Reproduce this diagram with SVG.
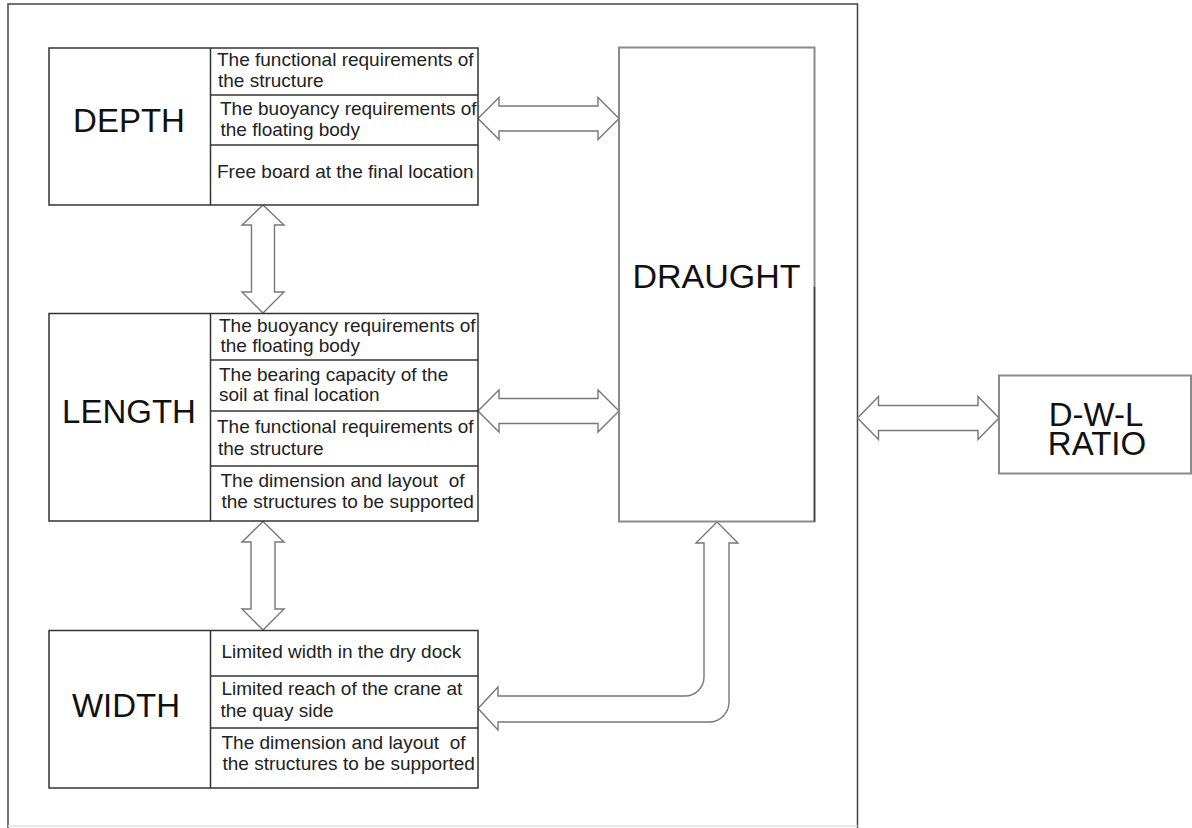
<svg xmlns="http://www.w3.org/2000/svg" width="1192" height="828" viewBox="0 0 1192 828">
  <style>
    .frame { fill: none; stroke: #444; stroke-width: 1.5; }
    .box { fill: #fff; stroke: #333; stroke-width: 1.5; }
    .sep { stroke: #333; stroke-width: 1.5; }
    .gbox { fill: #fff; stroke: #8a8a8a; stroke-width: 2; }
    .arrow { fill: #fff; stroke: #777; stroke-width: 1.4; stroke-linejoin: miter; }
    .big { font-family: "Liberation Sans", Arial, sans-serif; font-size: 33px; fill: #111; text-anchor: middle; }
    .sm { font-family: "Liberation Sans", Arial, sans-serif; font-size: 19px; fill: #222; }
  </style>
  <rect x="0" y="0" width="1192" height="828" fill="#fff"/>

  <!-- outer frame -->
  <g id="frame">
    <path class="frame" d="M8,828 L8,4 L857.5,4 L857.5,828"/>
    <line x1="8" y1="826" x2="857.5" y2="826" stroke="#e2e2e2" stroke-width="1.5"/>
  </g>

  <!-- connectors -->
  <g id="connectors">
    <polygon class="arrow" points="478,118.5 499,97.5 499,106 598,106 598,97.5 619,118.5 598,139.5 598,131 499,131 499,139.5"/>
    <polygon class="arrow" points="478,411 499,390 499,398.5 598,398.5 598,390 619,411 598,432 598,423.5 499,423.5 499,432"/>
    <polygon class="arrow" points="857.5,418 878.5,396.5 878.5,405.5 978,405.5 978,396.5 999,418 978,439.5 978,430.5 878.5,430.5 878.5,439.5"/>
    <polygon class="arrow" points="263,205 284,225 274.5,225 274.5,292 284,292 263,313 242,292 251.5,292 251.5,225 242,225"/>
    <polygon class="arrow" points="263,521.5 284,542 275,542 275,609 284,609 263,630 242,609 251,609 251,542 242,542"/>
    <path class="arrow" d="M717,522 L738,543 L729,543 L729,702 A20,20 0 0 1 709,722 L498,722 L498,730 L478,708.5 L498,687 L498,696 L685,696 A19,19 0 0 0 704,677 L704,543 L696,543 Z"/>
  </g>

  <!-- DEPTH -->
  <g id="depth">
    <rect class="box" x="49" y="48" width="429" height="157"/>
    <line class="sep" x1="210.5" y1="48" x2="210.5" y2="205"/>
    <line class="sep" x1="210.5" y1="95" x2="478" y2="95"/>
    <line class="sep" x1="210.5" y1="145" x2="478" y2="145"/>
    <text class="big" x="129" y="132">DEPTH</text>
    <text class="sm" x="217" y="65.5">The functional requirements of</text>
    <text class="sm" x="218" y="87">the structure</text>
    <text class="sm" x="220" y="115">The buoyancy requirements of</text>
    <text class="sm" x="220.5" y="135.5">the floating body</text>
    <text class="sm" x="217" y="178">Free board at the final location</text>
  </g>

  <!-- LENGTH -->
  <g id="length">
    <rect class="box" x="49" y="313.5" width="429" height="207.5"/>
    <line class="sep" x1="210.5" y1="313.5" x2="210.5" y2="521"/>
    <line class="sep" x1="210.5" y1="360" x2="478" y2="360"/>
    <line class="sep" x1="210.5" y1="411" x2="478" y2="411"/>
    <line class="sep" x1="210.5" y1="466" x2="478" y2="466"/>
    <text class="big" x="129" y="423">LENGTH</text>
    <text class="sm" x="219" y="331.5">The buoyancy requirements of</text>
    <text class="sm" x="220.5" y="351.5">the floating body</text>
    <text class="sm" x="219" y="380.5">The bearing capacity of the</text>
    <text class="sm" x="219" y="400.5">soil at final location</text>
    <text class="sm" x="217" y="433">The functional requirements of</text>
    <text class="sm" x="218" y="455">the structure</text>
    <text class="sm" x="220.5" y="487" xml:space="preserve">The dimension and layout  of</text>
    <text class="sm" x="221.5" y="508">the structures to be supported</text>
  </g>

  <!-- WIDTH -->
  <g id="width">
    <rect class="box" x="49" y="630.5" width="429" height="157.5"/>
    <line class="sep" x1="210.5" y1="630.5" x2="210.5" y2="788"/>
    <line class="sep" x1="210.5" y1="676" x2="478" y2="676"/>
    <line class="sep" x1="210.5" y1="728" x2="478" y2="728"/>
    <text class="big" x="126" y="716.5">WIDTH</text>
    <text class="sm" x="221.5" y="658">Limited width in the dry dock</text>
    <text class="sm" x="221.5" y="695">Limited reach of the crane at</text>
    <text class="sm" x="220.5" y="716.5">the quay side</text>
    <text class="sm" x="221.5" y="749" xml:space="preserve">The dimension and layout  of</text>
    <text class="sm" x="222.5" y="770">the structures to be supported</text>
  </g>

  <!-- DRAUGHT -->
  <g id="draught">
    <rect class="gbox" x="619" y="47.5" width="195.5" height="474"/>
    <line x1="814.5" y1="287" x2="814.5" y2="521.5" stroke="#444" stroke-width="1.5"/>
    <text class="big" x="716.5" y="288" style="font-size:34px">DRAUGHT</text>
  </g>

  <!-- D-W-L RATIO -->
  <g id="dwl">
    <rect class="gbox" x="999" y="375.5" width="192" height="98"/>
    <text class="big" x="1096" y="426">D-W-L</text>
    <text class="big" x="1097" y="455">RATIO</text>
  </g>
</svg>
